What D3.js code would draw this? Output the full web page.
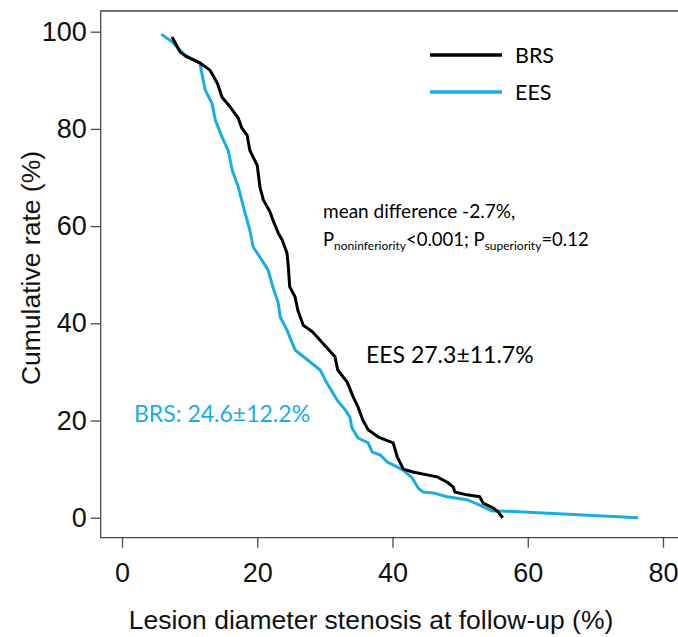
<!DOCTYPE html>
<html>
<head>
<meta charset="utf-8">
<script src="https://cdn.jsdelivr.net/npm/d3@7"></script>
<style>
  html, body { margin: 0; padding: 0; background: #fff; }
  svg { display: block; }
</style>
</head>
<body>
<svg id="chart" width="678" height="637"></svg>
<script>
// Cumulative distribution of lesion diameter stenosis at follow-up (%)
const brsStenosis = [7.4, 8.6, 9.6, 11.5, 13.0, 14.1, 14.8, 16.0, 17.2, 17.7, 18.5, 18.9, 20.0, 20.4, 20.9, 21.9, 22.3, 23.1, 23.7, 24.4, 24.6, 24.8, 25.6, 26.0, 26.8, 28.2, 29.7, 31.5, 31.9, 33.3, 34.2, 34.9, 35.6, 36.4, 37.9, 40.1, 40.7, 41.6, 43.0, 46.6, 48.1, 49.0, 49.2, 51.0, 52.9, 53.4, 54.9, 55.6, 56.3];
const brsRate     = [98.9, 95.8, 94.8, 93.6, 92.1, 89.4, 86.5, 84.5, 82.2, 80.2, 78.7, 75.6, 72.5, 68.0, 65.4, 62.9, 61.3, 58.6, 57.1, 54.4, 51.6, 47.5, 45.4, 42.7, 39.6, 38.2, 35.9, 33.1, 30.4, 27.9, 24.8, 22.8, 20.1, 18.1, 16.6, 15.4, 12.5, 10.0, 9.4, 8.4, 7.3, 6.3, 5.3, 4.7, 4.3, 3.0, 2.0, 1.2, 0.0];

const eesStenosis = [5.8, 7.4, 9.3, 11.5, 12.3, 13.3, 13.8, 14.8, 15.7, 16.3, 17.2, 18.2, 18.9, 19.4, 20.4, 21.6, 22.3, 23.1, 23.4, 24.4, 25.6, 27.4, 29.3, 30.3, 31.8, 33.0, 33.7, 34.0, 34.9, 36.4, 37.0, 38.2, 39.2, 41.6, 42.9, 43.8, 44.5, 46.0, 48.1, 51.0, 52.9, 54.7, 55.9, 76.3];
const eesRate     = [99.5, 97.9, 95.2, 93.6, 88.0, 85.3, 81.8, 78.3, 75.6, 71.5, 68.0, 62.7, 59.2, 55.7, 53.6, 51.0, 47.5, 44.2, 41.3, 38.6, 34.5, 32.5, 30.4, 27.7, 24.2, 22.2, 20.7, 18.5, 16.4, 15.4, 13.5, 12.9, 11.5, 9.8, 8.2, 6.1, 5.3, 5.1, 4.3, 3.7, 2.6, 1.4, 1.4, 0.0];

const xTicks = [0, 20, 40, 60, 80];
const yTicks = [0, 20, 40, 60, 80, 100];

const seriesNames  = ["BRS", "EES"];
const seriesColors = ["#000000", "#19ade6"];

const svg = d3.select("#chart");

const frame = { left: 100.7, top: 11, right: 700, bottom: 537.7 };

const x = d3.scaleLinear().domain([0, 80]).range([122, 663]);
const y = d3.scaleLinear().domain([0, 100]).range([517.7, 31.7]);

const axisFont = "'Liberation Sans', Arial, sans-serif";
const textFont = "Lato, 'Open Sans', sans-serif";
const frameColor = "#4a4a4a";

// Plot frame (open to the right)
svg.append("path")
  .attr("d", `M${frame.right},${frame.top}H${frame.left}V${frame.bottom}H${frame.right}`)
  .attr("fill", "none")
  .attr("stroke", frameColor)
  .attr("stroke-width", 1.3);

// Y axis
const yAxis = svg.append("g")
  .attr("transform", `translate(${frame.left},0)`)
  .call(d3.axisLeft(y).tickValues(yTicks).tickSize(10).tickPadding(4));
yAxis.select(".domain").remove();
yAxis.selectAll(".tick line").attr("stroke", frameColor).attr("stroke-width", 1.3);
yAxis.selectAll(".tick text")
  .attr("font-family", axisFont).attr("font-size", 27).attr("fill", "#111");

// X axis
const xAxis = svg.append("g")
  .attr("transform", `translate(0,${frame.bottom})`)
  .call(d3.axisBottom(x).tickValues(xTicks).tickSize(10).tickPadding(15));
xAxis.select(".domain").remove();
xAxis.selectAll(".tick line").attr("stroke", frameColor).attr("stroke-width", 1.3);
xAxis.selectAll(".tick text")
  .attr("font-family", axisFont).attr("font-size", 27).attr("fill", "#111");

// Axis titles
svg.append("text")
  .attr("x", 371).attr("y", 629)
  .attr("text-anchor", "middle")
  .attr("font-family", axisFont).attr("font-size", 26.5).attr("fill", "#111")
  .text("Lesion diameter stenosis at follow-up (%)");

svg.append("text")
  .attr("transform", "translate(40,268) rotate(-90)")
  .attr("text-anchor", "middle")
  .attr("font-family", axisFont).attr("font-size", 26.5).attr("fill", "#111")
  .text("Cumulative rate (%)");

// Curves
const line = d3.line()
  .x(d => x(d[0]))
  .y(d => y(d[1]))
  .curve(d3.curveLinear);

const series = [
  d3.zip(brsStenosis, brsRate),
  d3.zip(eesStenosis, eesRate)
];

// blue first, black on top where they meet near the start
[1, 0].forEach(i => {
  svg.append("path")
    .datum(series[i])
    .attr("d", line)
    .attr("fill", "none")
    .attr("stroke", seriesColors[i])
    .attr("stroke-width", 3)
    .attr("stroke-linejoin", "round");
});

// Legend
const legend = svg.append("g");
seriesNames.forEach((name, i) => {
  const ly = 55 + i * 37;
  legend.append("line")
    .attr("x1", 430).attr("x2", 502)
    .attr("y1", ly).attr("y2", ly)
    .attr("stroke", seriesColors[i]).attr("stroke-width", 3.5);
  legend.append("text")
    .attr("x", 515).attr("y", ly + 8)
    .attr("font-family", textFont).attr("font-size", 21.5).attr("fill", "#000")
    .text(name);
});

// Statistical annotation
svg.append("text")
  .attr("x", 323).attr("y", 218)
  .attr("font-family", textFont).attr("font-size", 19).attr("fill", "#000")
  .text("mean difference -2.7%,");

const pLine = svg.append("text")
  .attr("x", 323).attr("y", 246)
  .attr("font-family", textFont).attr("font-size", 18.5).attr("fill", "#000");
pLine.append("tspan").text("P");
pLine.append("tspan").attr("font-size", 12).attr("dy", 4).text("noninferiority");
pLine.append("tspan").attr("dy", -4).text("<0.001; P");
pLine.append("tspan").attr("font-size", 12).attr("dy", 4).text("superiority");
pLine.append("tspan").attr("dy", -4).text("=0.12");

// Group summaries
svg.append("text")
  .attr("x", 366).attr("y", 363)
  .attr("font-family", textFont).attr("font-size", 23).attr("fill", "#000")
  .text("EES 27.3\u00B111.7%");

svg.append("text")
  .attr("x", 134).attr("y", 422)
  .attr("font-family", textFont).attr("font-size", 23).attr("fill", seriesColors[1])
  .text("BRS: 24.6\u00B112.2%");
</script>
</body>
</html>
